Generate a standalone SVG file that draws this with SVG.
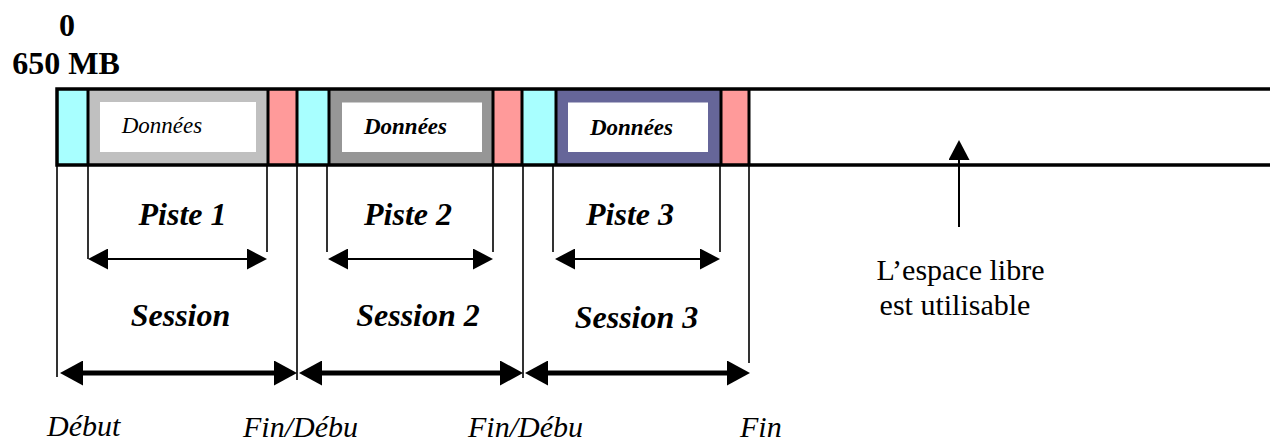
<svg xmlns="http://www.w3.org/2000/svg" width="1270" height="443" viewBox="0 0 1270 443">
<style>
.cyan{fill:#A8FFFF}
.pink{fill:#FF9A9A}
.band{stroke:#000;stroke-width:3.5;fill:none}
.sep{stroke:#000;stroke-width:3}
.tick{stroke:#000;stroke-width:1.6}
.thick{stroke:#000;stroke-width:5;fill:none}
.thin{stroke:#000;stroke-width:2;fill:none}
.inner{fill:#fff}
.big{font-size:32px;font-weight:bold;font-style:italic}
.hdr{font-size:32px;font-weight:bold}
.lbl{font-size:30px;font-style:italic}
.don{font-size:23px;font-style:italic}
.donb{font-size:23px;font-style:italic;font-weight:bold}
.note{font-size:30px}
</style>
<defs>
<marker id="headThick" markerUnits="userSpaceOnUse" markerWidth="23" markerHeight="25" refX="13" refY="12.5" orient="auto-start-reverse"><path d="M0,0 L23,12.5 L0,25 Z" fill="#000"/></marker>
<marker id="headThin" markerUnits="userSpaceOnUse" markerWidth="20" markerHeight="21" refX="16" refY="10.5" orient="auto-start-reverse"><path d="M0,0 L20,10.5 L0,21 Z" fill="#000"/></marker>
</defs>

<g font-family="'Liberation Serif', 'DejaVu Serif', 'Times New Roman', serif" fill="#000">
<g id="header">
<text class="hdr" x="67" y="36" text-anchor="middle">0</text>
<text class="hdr" x="66" y="74" text-anchor="middle">650 MB</text>
</g>

<g id="lead-in-1"><rect class="cyan" x="57" y="89" width="31" height="76"/></g>
<g id="track-1">
<rect x="88" y="89" width="180" height="76" fill="#C0C0C0"/>
<rect class="inner" x="100" y="102" width="156" height="50"/>
<text class="don" x="162" y="133" text-anchor="middle">Données</text>
</g>
<g id="lead-out-1"><rect class="pink" x="268" y="89" width="29" height="76"/></g>
<g id="lead-in-2"><rect class="cyan" x="297" y="89" width="32" height="76"/></g>
<g id="track-2">
<rect x="329" y="89" width="164" height="76" fill="#969696"/>
<rect class="inner" x="342" y="102.5" width="140" height="49.5"/>
<text class="donb" x="405.5" y="134" text-anchor="middle">Données</text>
</g>
<g id="lead-out-2"><rect class="pink" x="493" y="89" width="29" height="76"/></g>
<g id="lead-in-3"><rect class="cyan" x="522" y="89" width="34" height="76"/></g>
<g id="track-3">
<rect x="556" y="89" width="165" height="76" fill="#666699"/>
<rect class="inner" x="568" y="102.5" width="140" height="49.5"/>
<text class="donb" x="631.5" y="135" text-anchor="middle">Données</text>
</g>
<g id="lead-out-3"><rect class="pink" x="721" y="89" width="28" height="76"/></g>
<g id="free-space"><rect x="749" y="89" width="521" height="76" fill="#fff"/></g>

<g id="band-outline">
<path class="band" d="M1270,89 H57 V165 H1270"/>
<path class="sep" d="M88,89V165 M268,89V165 M297,89V165 M329,89V165 M493,89V165 M522,89V165 M556,89V165 M721,89V165 M749,89V165"/>
</g>

<g id="connectors">
<path class="tick" d="M57,165V377 M88,165V259 M267,165V252 M297,165V380 M327,165V252 M493,165V252 M523,165V378 M553,165V252 M720,165V252 M749,165V363"/>
<line class="thin" x1="92" y1="259" x2="263" y2="259" marker-start="url(#headThin)" marker-end="url(#headThin)"/>
<line class="thin" x1="332" y1="259" x2="489" y2="259" marker-start="url(#headThin)" marker-end="url(#headThin)"/>
<line class="thin" x1="559" y1="259" x2="716" y2="259" marker-start="url(#headThin)" marker-end="url(#headThin)"/>
<line class="thick" x1="70" y1="373" x2="287" y2="373" marker-start="url(#headThick)" marker-end="url(#headThick)"/>
<line class="thick" x1="309" y1="373" x2="513" y2="373" marker-start="url(#headThick)" marker-end="url(#headThick)"/>
<line class="thick" x1="535" y1="373" x2="740" y2="373" marker-start="url(#headThick)" marker-end="url(#headThick)"/>
<line class="thin" x1="959" y1="227" x2="959" y2="144" marker-end="url(#headThin)"/>
</g>

<g id="labels">
<text class="big" x="182.5" y="225" text-anchor="middle">Piste 1</text>
<text class="big" x="408" y="225" text-anchor="middle">Piste 2</text>
<text class="big" x="630" y="225" text-anchor="middle">Piste 3</text>
<text class="big" x="180.5" y="325.5" text-anchor="middle">Session</text>
<text class="big" x="418" y="325.5" text-anchor="middle">Session 2</text>
<text class="big" x="636.5" y="328" text-anchor="middle">Session 3</text>
<text class="lbl" x="47" y="436">Début</text>
<text class="lbl" x="243" y="437">Fin/Débu</text>
<text class="lbl" x="468" y="437">Fin/Débu</text>
<text class="lbl" x="740" y="437">Fin</text>
<text class="note" x="960.5" y="280" text-anchor="middle">L’espace libre</text>
<text class="note" x="955" y="315" text-anchor="middle">est utilisable</text>
</g>
</g>
</svg>
